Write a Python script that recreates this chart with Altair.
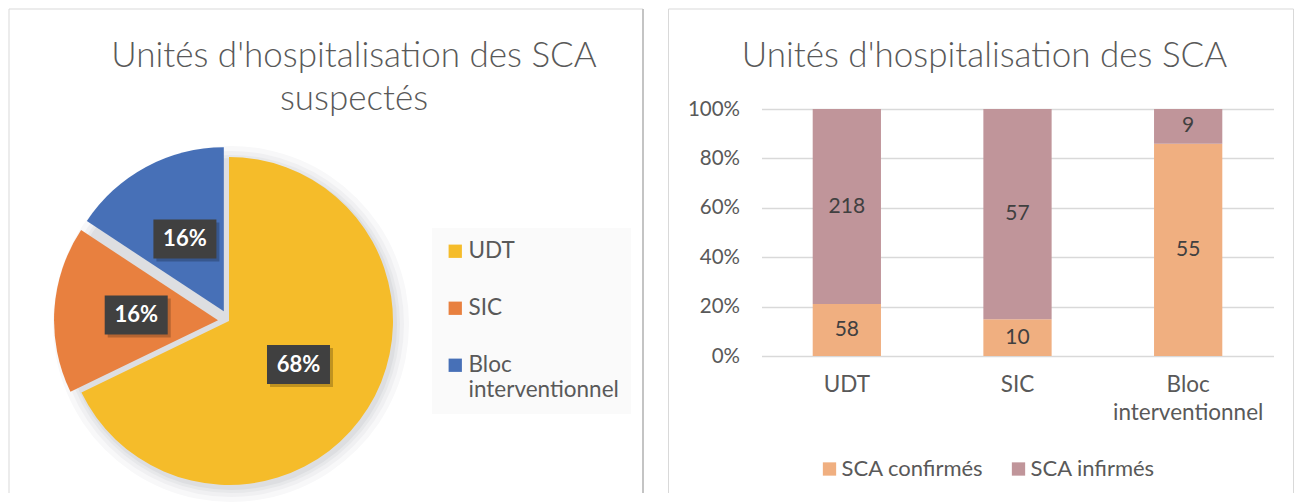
import math
import altair as alt
import pandas as pd

# ---------------- data ----------------
units = ["UDT", "SIC", "Bloc interventionnel"]
confirmes = [58, 10, 55]
infirmes = [218, 57, 9]
series = ["SCA confirmés", "SCA infirmés"]

pie_title = ["Unités d'hospitalisation des SCA", "suspectés"]
bar_title = "Unités d'hospitalisation des SCA"

pie_colors = ["#F5BC2A", "#E8803F", "#4770B7"]
bar_colors = ["#F0AF80", "#C0959A"]

FONT = "Lato"
GREY = "#595959"
DARK = "#404040"
BORDER = "#d9d9d9"

pie_df = pd.DataFrame({
    "unit": units,
    "total": [c + i for c, i in zip(confirmes, infirmes)],
    "idx": list(range(len(units))),
})

rows = []
for k, u in enumerate(units):
    rows.append({"unit": u, "serie": series[0], "value": confirmes[k], "ord": 0})
    rows.append({"unit": u, "serie": series[1], "value": infirmes[k], "ord": 1})
bar_df = pd.DataFrame(rows)

dummy = alt.Data(values=[{"k": 1}])

# both views share the same top (page y = 108); panel frames reach above it
RW, RH = 512, 247
TOP, BOT = -100, 384

# ---------------- left panel : pie ----------------
LW, LH = 634, RH
R = 164
CX, CY = 220, 212
EXPLODE = 11
TAU = 2 * math.pi
BW, BH = 63, 39

pbase = (
    alt.Chart(pie_df)
    .transform_joinaggregate(grand="sum(total)")
    .transform_window(cum="sum(total)", sort=[alt.SortField("idx")], frame=[None, 0])
    .transform_calculate(t0=f"(datum.cum - datum.total) / datum.grand * {TAU}")
    .transform_calculate(t1=f"datum.cum / datum.grand * {TAU}")
    .transform_calculate(mid="(datum.t0 + datum.t1) / 2")
    .transform_calculate(ex=f"datum.unit == 'UDT' ? 0 : {EXPLODE}")
    .transform_calculate(cx=f"{CX} + datum.ex * sin(datum.mid)")
    .transform_calculate(cy=f"{CY} - datum.ex * cos(datum.mid)")
    .transform_calculate(lx=f"datum.cx + {R / 2} * sin(datum.mid)")
    .transform_calculate(ly=f"datum.cy - {R / 2} * cos(datum.mid)")
    .transform_calculate(bx0=f"datum.lx - {BW / 2}", bx1=f"datum.lx + {BW / 2}")
    .transform_calculate(by0=f"datum.ly - {BH / 2}", by1=f"datum.ly + {BH / 2}")
    .transform_calculate(sx0="datum.bx0 + 3", sx1="datum.bx1 + 3")
    .transform_calculate(sy0="datum.by0 + 3", sy1="datum.by1 + 3")
    .transform_calculate(pct="format(datum.total / datum.grand, '.0%')")
)

shadows = [
    alt.Chart(dummy)
    .mark_arc(radius=R + dr, theta=0, theta2=TAU, color=c)
    .encode(x=alt.value(CX + 2), y=alt.value(CY + 3))
    for dr, c in [(14, "#f8f8f9"), (9, "#f0f0f2"), (5, "#e7e8ea"), (2, "#dddee1")]
]

arcs = pbase.mark_arc(radius=R).encode(
    theta=alt.Theta("t0:Q", scale=None),
    theta2="t1:Q",
    x=alt.X("cx:Q", scale=None, axis=None),
    y=alt.Y("cy:Q", scale=None, axis=None),
    color=alt.Color(
        "unit:N",
        sort=units,
        scale=alt.Scale(domain=units, range=pie_colors),
        legend=alt.Legend(
            title=None, orient="none", legendX=423, legendY=119,
            direction="vertical", symbolType="square", symbolSize=177,
            symbolStrokeWidth=0, labelFont=FONT, labelFontSize=22.5,
            labelColor=GREY, labelOffset=2, labelLimit=400,
            labelExpr="datum.label == 'Bloc interventionnel' ? ['Bloc', 'interventionnel'] : datum.label",
            rowPadding=34, padding=12, fillColor="#fafafa",
        ),
    ),
)

box_shadow = pbase.mark_rect(color="#000000", opacity=0.22).encode(
    x=alt.X("sx0:Q", scale=None, axis=None), x2="sx1:Q",
    y=alt.Y("sy0:Q", scale=None, axis=None), y2="sy1:Q",
)
boxes = pbase.mark_rect(color=DARK).encode(
    x=alt.X("bx0:Q", scale=None, axis=None), x2="bx1:Q",
    y=alt.Y("by0:Q", scale=None, axis=None), y2="by1:Q",
)
ptext = pbase.mark_text(font=FONT, fontSize=22, fontWeight="bold", color="white").encode(
    x=alt.X("lx:Q", scale=None, axis=None),
    y=alt.Y("ly:Q", scale=None, axis=None),
    text="pct:N",
)

lrules = [
    alt.Chart(dummy).mark_rule(color=BORDER, strokeWidth=1).encode(
        x=alt.value(0), y=alt.value(TOP), y2=alt.value(BOT)),
    alt.Chart(dummy).mark_rule(color=BORDER, strokeWidth=1).encode(
        x=alt.value(0), x2=alt.value(LW), y=alt.value(TOP)),
    alt.Chart(dummy).mark_rule(color="#c4c4c4", strokeWidth=2).encode(
        x=alt.value(LW), y=alt.value(TOP), y2=alt.value(BOT)),
]

TFS = 35
left = alt.layer(*lrules, *shadows, arcs, box_shadow, boxes, ptext).properties(
    width=LW, height=LH,
    title=alt.Title(
        pie_title, anchor="middle", frame="group", dx=28, offset=-137,
        baseline="alphabetic", lineHeight=43, fontSize=TFS, font=FONT,
        fontWeight=300, color=GREY,
    ),
)

# ---------------- right panel : 100% stacked bars ----------------
bbase = (
    alt.Chart(bar_df)
    .transform_joinaggregate(tot="sum(value)", groupby=["unit"])
    .transform_calculate(frac="datum.value / datum.tot")
    .transform_stack(stack="frac", groupby=["unit"], as_=["y0", "y1"], sort=[alt.SortField("ord")])
    .transform_calculate(ymid="(datum.y0 + datum.y1) / 2")
)

xenc = alt.X(
    "unit:N", sort=units,
    scale=alt.Scale(paddingInner=0.6, paddingOuter=0.3),
    axis=alt.Axis(
        title=None, labelAngle=0, labelFont=FONT, labelFontSize=22.5,
        labelColor=GREY, labelPadding=17, labelLineHeight=28,
        labelExpr="split(datum.label, ' ')", ticks=False, domain=False,
        grid=False, labelLimit=400,
    ),
)

bars = bbase.mark_bar().encode(
    x=xenc,
    y=alt.Y(
        "y0:Q", scale=alt.Scale(domain=[0, 1]),
        axis=alt.Axis(
            title=None, values=[0, 0.2, 0.4, 0.6, 0.8, 1], format=".0%",
            labelFont=FONT, labelFontSize=20.5, labelColor=GREY, labelPadding=22,
            ticks=False, domain=False, gridColor=BORDER, gridWidth=1.5,
        ),
    ),
    y2="y1:Q",
    color=alt.Color(
        "serie:N", sort=series,
        scale=alt.Scale(domain=series, range=bar_colors),
        legend=alt.Legend(
            title=None, orient="none", legendX=57, legendY=349,
            direction="horizontal", symbolType="square", symbolSize=177,
            symbolStrokeWidth=0, labelFont=FONT, labelFontSize=22,
            labelColor=GREY, labelOffset=1, columnPadding=24, padding=0,
            labelLimit=400,
        ),
    ),
)

blabels = bbase.mark_text(font=FONT, fontSize=21, color=DARK).encode(
    x=alt.X("unit:N", sort=units),
    y=alt.Y("ymid:Q"),
    text="value:Q",
)

RL, RR = -93, 532
rrules = [
    alt.Chart(dummy).mark_rule(color=BORDER, strokeWidth=1).encode(
        x=alt.value(RL), y=alt.value(TOP), y2=alt.value(BOT)),
    alt.Chart(dummy).mark_rule(color=BORDER, strokeWidth=1).encode(
        x=alt.value(RL), x2=alt.value(RR), y=alt.value(TOP)),
    alt.Chart(dummy).mark_rule(color=BORDER, strokeWidth=1).encode(
        x=alt.value(RR), y=alt.value(TOP), y2=alt.value(BOT)),
]

right = alt.layer(bars, blabels, *rrules).properties(
    width=RW, height=RH,
    title=alt.Title(
        bar_title, anchor="middle", frame="group", dx=-33, offset=-93,
        baseline="alphabetic", fontSize=TFS, font=FONT, fontWeight=300, color=GREY,
    ),
)

chart = (
    alt.hconcat(left, right, spacing=23.5)
    .resolve_scale(color="independent")
    .properties(padding=0, background="white")
    .configure_view(stroke=None)
)

chart.save("out.html", embed_options={"renderer": "svg", "actions": False})
